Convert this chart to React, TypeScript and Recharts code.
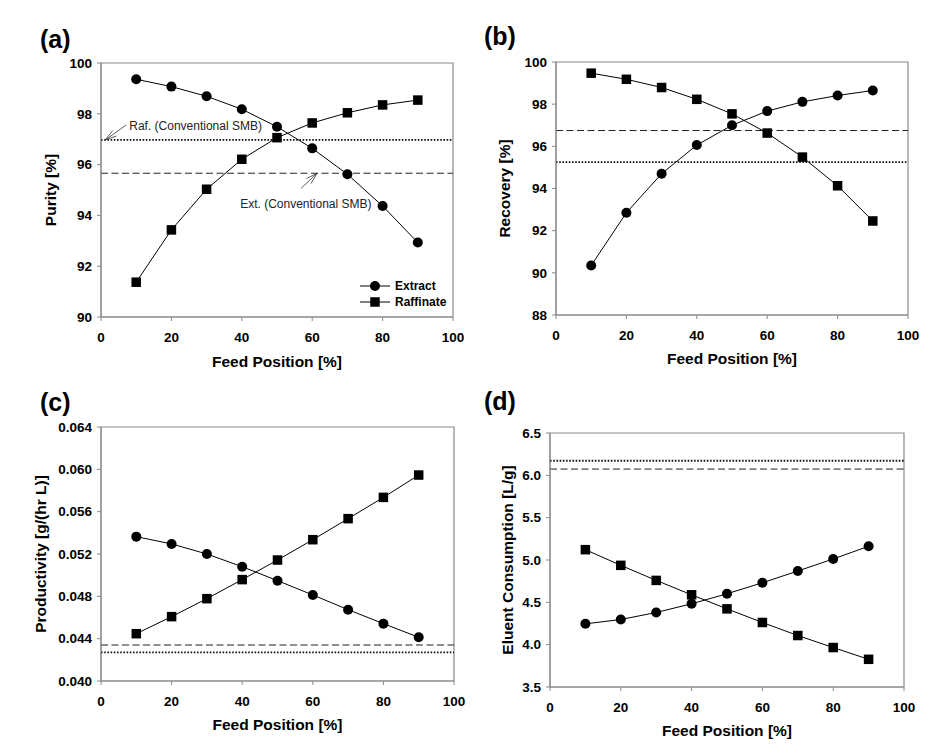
import React from 'react';
import {
  LineChart,
  Line,
  XAxis,
  YAxis,
  ReferenceLine,
  ReferenceArea,
  ReferenceDot,
  Legend,
} from 'recharts';

// feed position along the column [%]
const feedPositions = [10, 20, 30, 40, 50, 60, 70, 80, 90];

// (a) purity
const purityExtract = [99.36, 99.07, 98.69, 98.18, 97.49, 96.64, 95.62, 94.37, 92.93];
const purityRaffinate = [91.37, 93.43, 95.03, 96.21, 97.06, 97.64, 98.04, 98.35, 98.54];
const purityConv = { raf: 96.97, ext: 95.66 };
const purityTicks = [90, 92, 94, 96, 98, 100];

// (b) recovery
const recoveryExtract = [90.35, 92.85, 94.7, 96.06, 97.0, 97.67, 98.11, 98.41, 98.65];
const recoveryRaffinate = [99.47, 99.18, 98.79, 98.23, 97.54, 96.63, 95.49, 94.13, 92.46];
const recoveryConv = { raf: 95.25, ext: 96.75 };
const recoveryTicks = [88, 90, 92, 94, 96, 98, 100];

// (c) productivity
const productivityExtract = [0.05364, 0.05295, 0.052, 0.0508, 0.04948, 0.04813, 0.04674, 0.04542, 0.04413];
const productivityRaffinate = [0.04447, 0.04608, 0.04778, 0.04958, 0.05143, 0.05335, 0.05534, 0.05735, 0.05946];
const productivityConv = { raf: 0.04271, ext: 0.0434 };
const productivityTicks = [0.04, 0.044, 0.048, 0.052, 0.056, 0.06, 0.064];

// (d) eluent consumption
const eluentExtract = [4.246, 4.297, 4.38, 4.483, 4.601, 4.731, 4.87, 5.012, 5.162];
const eluentRaffinate = [5.122, 4.937, 4.759, 4.589, 4.423, 4.262, 4.108, 3.966, 3.827];
const eluentConv = { raf: 6.172, ext: 6.074 };
const eluentTicks = [3.5, 4.0, 4.5, 5.0, 5.5, 6.0, 6.5];

const feedTicks = [0, 20, 40, 60, 80, 100];

const FONT = '"Liberation Sans", Arial, sans-serif';
const AXIS_GREY = '#8a8a8a';

const rows = (ext: number[], raf: number[]) =>
  feedPositions.map((x, i) => ({ x, extract: ext[i], raffinate: raf[i] }));

const CircleDot = (props: any) => {
  const { cx, cy, index } = props;
  if (cx == null || cy == null) return null;
  return <circle key={`c-${index}`} cx={cx} cy={cy} r={5} fill="#000" />;
};

const SquareDot = (props: any) => {
  const { cx, cy, index } = props;
  if (cx == null || cy == null) return null;
  return <rect key={`s-${index}`} x={cx - 4.75} y={cy - 4.75} width={9.5} height={9.5} fill="#000" />;
};

// open arrow + caption, drawn relative to the arrow tip
const makeArrow = (tail: [number, number], text: string, textAt: [number, number]) => (props: any) => {
  const { cx, cy } = props;
  if (cx == null || cy == null) return <g />;
  const tx = cx + tail[0];
  const ty = cy + tail[1];
  const len = Math.hypot(tail[0], tail[1]);
  const ux = tail[0] / len;
  const uy = tail[1] / len;
  const barb = (deg: number) => {
    const a = (deg * Math.PI) / 180;
    const bx = ux * Math.cos(a) - uy * Math.sin(a);
    const by = ux * Math.sin(a) + uy * Math.cos(a);
    return [cx + bx * 12, cy + by * 12];
  };
  const [b1x, b1y] = barb(16);
  const [b2x, b2y] = barb(-16);
  return (
    <g stroke="#333" strokeWidth={0.8} fill="none">
      <line x1={cx} y1={cy} x2={tx} y2={ty} />
      <line x1={cx} y1={cy} x2={b1x} y2={b1y} />
      <line x1={cx} y1={cy} x2={b2x} y2={b2y} />
      <text
        x={cx + textAt[0]}
        y={cy + textAt[1]}
        stroke="none"
        fill="#222"
        fontSize={12}
        fontFamily={FONT}
      >
        {text}
      </text>
    </g>
  );
};

const RafArrow = makeArrow([21, -15], 'Raf. (Conventional SMB)', [24, -9.5]);
const ExtArrow = makeArrow([-16, 15], 'Ext. (Conventional SMB)', [-77, 35]);

const renderLegend = () => (
  <div style={{ fontFamily: FONT, fontSize: 12, fontWeight: 'bold', color: '#000' }}>
    {[
      { name: 'Extract', mark: <circle cx={15} cy={8} r={5} fill="#000" /> },
      { name: 'Raffinate', mark: <rect x={10.25} y={3.25} width={9.5} height={9.5} fill="#000" /> },
    ].map((item) => (
      <div key={item.name} style={{ display: 'flex', alignItems: 'center', height: 16 }}>
        <svg width={30} height={16} style={{ display: 'block' }}>
          <line x1={0} y1={8} x2={30} y2={8} stroke="#000" strokeWidth={1} />
          {item.mark}
        </svg>
        <span style={{ marginLeft: 5, lineHeight: '16px' }}>{item.name}</span>
      </div>
    ))}
  </div>
);

type Panel = {
  tag: string;
  tagAt: [number, number];
  left: number;
  top: number;
  margin: { top: number; right: number; bottom: number; left: number };
  yWidth: number;
  xHeight: number;
  yLabel: string;
  yTicks: number[];
  yFormat: (v: number) => string;
  data: { x: number; extract: number; raffinate: number }[];
  conv: { raf: number; ext: number };
  legend?: boolean;
  arrows?: boolean;
};

const panels: Panel[] = [
  {
    tag: '(a)',
    tagAt: [40, 48],
    left: 0,
    top: 0,
    margin: { top: 63, right: 19, bottom: 11, left: 45 },
    yWidth: 56,
    xHeight: 50,
    yLabel: 'Purity [%]',
    yTicks: purityTicks,
    yFormat: (v) => String(v),
    data: rows(purityExtract, purityRaffinate),
    conv: purityConv,
    legend: true,
    arrows: true,
  },
  {
    tag: '(b)',
    tagAt: [484, 45],
    left: 472,
    top: 0,
    margin: { top: 62, right: 36, bottom: 14, left: 27.5 },
    yWidth: 56.5,
    xHeight: 49,
    yLabel: 'Recovery [%]',
    yTicks: recoveryTicks,
    yFormat: (v) => String(v),
    data: rows(recoveryExtract, recoveryRaffinate),
    conv: recoveryConv,
  },
  {
    tag: '(c)',
    tagAt: [40, 411],
    left: 0,
    top: 378,
    margin: { top: 49, right: 18, bottom: 26, left: 35 },
    yWidth: 66,
    xHeight: 49,
    yLabel: 'Productivity [g/(hr L)]',
    yTicks: productivityTicks,
    yFormat: (v) => v.toFixed(3),
    data: rows(productivityExtract, productivityRaffinate),
    conv: productivityConv,
  },
  {
    tag: '(d)',
    tagAt: [484, 410],
    left: 472,
    top: 378,
    margin: { top: 55, right: 40, bottom: 20, left: 30.5 },
    yWidth: 47.5,
    xHeight: 49,
    yLabel: 'Eluent Consumption [L/g]',
    yTicks: eluentTicks,
    yFormat: (v) => v.toFixed(1),
    data: rows(eluentExtract, eluentRaffinate),
    conv: eluentConv,
  },
];

const tickStyle = { fill: '#000', fontSize: 13.5, fontWeight: 'bold', fontFamily: FONT };
const titleStyle = { fill: '#000', fontSize: 15.5, fontWeight: 'bold', fontFamily: FONT };

function PanelChart({ p }: { p: Panel }) {
  const y0 = p.yTicks[0];
  const y1 = p.yTicks[p.yTicks.length - 1];
  return (
    <div style={{ position: 'absolute', left: p.left, top: p.top }}>
      <LineChart width={472} height={378} data={p.data} margin={p.margin}>
        <XAxis
          type="number"
          dataKey="x"
          domain={[0, 100]}
          ticks={feedTicks}
          height={p.xHeight}
          tickSize={4}
          tickMargin={11}
          stroke={AXIS_GREY}
          tick={tickStyle}
          label={{ value: 'Feed Position [%]', position: 'insideBottom', offset: 0, ...titleStyle }}
        />
        <YAxis
          type="number"
          domain={[y0, y1]}
          ticks={p.yTicks}
          width={p.yWidth}
          tickSize={4}
          tickMargin={5}
          stroke={AXIS_GREY}
          tick={tickStyle}
          tickFormatter={p.yFormat}
          label={{
            value: p.yLabel,
            angle: -90,
            position: 'insideLeft',
            offset: 5,
            style: { textAnchor: 'middle' },
            ...titleStyle,
          }}
        />
        <ReferenceArea x1={0} x2={100} y1={y0} y2={y1} fill="none" stroke={AXIS_GREY} strokeWidth={1.2} />
        <ReferenceLine y={p.conv.raf} stroke="#111" strokeWidth={1.8} strokeDasharray="1.6 1.6" />
        <ReferenceLine y={p.conv.ext} stroke="#222" strokeWidth={1} strokeDasharray="7 3.5" />
        {p.arrows && <ReferenceDot x={1.2} y={p.conv.raf} r={0} shape={RafArrow} />}
        {p.arrows && <ReferenceDot x={61.4} y={p.conv.ext} r={0} shape={ExtArrow} />}
        <Line
          type="linear"
          dataKey="extract"
          name="Extract"
          stroke="#000"
          strokeWidth={1}
          dot={CircleDot}
          activeDot={false}
          isAnimationActive={false}
        />
        <Line
          type="linear"
          dataKey="raffinate"
          name="Raffinate"
          stroke="#000"
          strokeWidth={1}
          dot={SquareDot}
          activeDot={false}
          isAnimationActive={false}
        />
        {p.legend && (
          <Legend
            layout="horizontal"
            align="center"
            verticalAlign="middle"
            content={renderLegend}
            wrapperStyle={{ left: 360, top: 278, width: 'auto', height: 'auto' }}
          />
        )}
      </LineChart>
    </div>
  );
}

export default function App() {
  return (
    <div
      style={{
        position: 'absolute',
        left: 0,
        top: 0,
        width: 944,
        height: 756,
        background: '#fff',
        fontFamily: FONT,
      }}
    >
      {panels.map((p) => (
        <PanelChart key={p.tag} p={p} />
      ))}
      {panels.map((p) => (
        <div
          key={`tag-${p.tag}`}
          style={{
            position: 'absolute',
            left: p.tagAt[0],
            top: p.tagAt[1] - 21.2,
            fontSize: 25,
            fontWeight: 'bold',
            lineHeight: 1,
            color: '#000',
          }}
        >
          {p.tag}
        </div>
      ))}
    </div>
  );
}
